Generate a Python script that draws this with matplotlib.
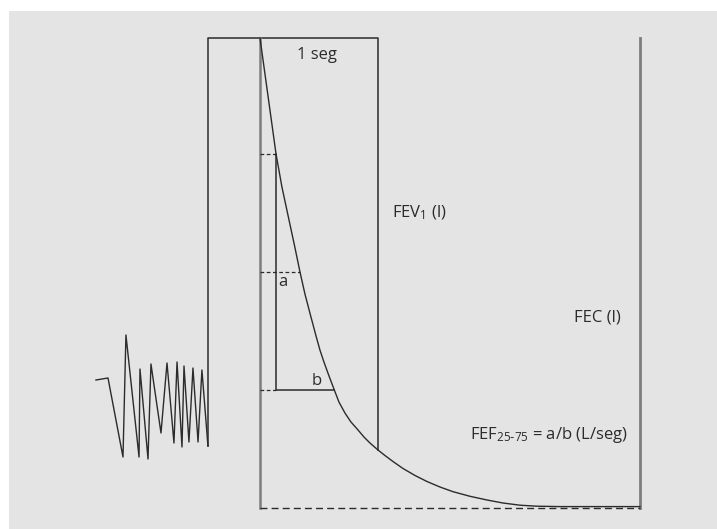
import matplotlib
matplotlib.use("Agg")
import matplotlib.pyplot as plt

plt.rcParams["font.family"] = ["Open Sans", "DejaVu Sans"]

# time in seconds, volume in litres
fvc = 4.70
t_curve = [0.000, 0.034, 0.068, 0.102, 0.136, 0.186, 0.246, 0.297, 0.339, 0.381,
           0.432, 0.475, 0.508, 0.542, 0.585, 0.630, 0.669, 0.720, 0.771, 0.831,
           0.881, 0.932, 1.000, 1.059, 1.127, 1.212, 1.314, 1.415, 1.525, 1.636,
           1.780, 1.924, 2.059, 2.203, 2.347, 2.542, 3.220]
v_curve = [4.70, 4.41, 4.12, 3.83, 3.54, 3.21, 2.88, 2.60, 2.36, 2.14,
           1.91, 1.72, 1.58, 1.46, 1.32, 1.18, 1.06, 0.95, 0.86, 0.78,
           0.71, 0.65, 0.58, 0.525, 0.465, 0.395, 0.325, 0.265, 0.21, 0.163,
           0.117, 0.08, 0.05, 0.028, 0.018, 0.014, 0.014]

# tidal breathing before the manoeuvre
t_tidal = [-1.390, -1.288, -1.161, -1.136, -1.025, -1.017, -0.949, -0.924, -0.839,
           -0.788, -0.729, -0.703, -0.661, -0.644, -0.602, -0.568, -0.525, -0.492, -0.441]
v_tidal = [1.28, 1.30, 0.51, 1.73, 0.51, 1.39, 0.49, 1.44, 0.75,
           1.45, 0.65, 1.46, 0.61, 1.42, 0.66, 1.40, 0.66, 1.38, 0.62]

t_end = 3.22          # time where the curve reaches the plateau
t_a = 0.136           # x position of segment "a"
v75, v50, v25 = 3.54, 2.36, 1.18
t50, t25 = 0.339, 0.630
t_fev1 = 1.0
v_fev1 = 0.58

dark = "#2b2b2b"
grey = "#7d7d7d"

fig = plt.figure(figsize=(7.17, 5.29), dpi=100)
ax = fig.add_axes([9 / 717, 0, 1 - 9 / 717, 518 / 529])
ax.set_xlim(-2.127, 3.873)
ax.set_ylim(-0.21, 4.97)
ax.axis("off")
ax.add_patch(plt.Rectangle((0, 0), 1, 1, transform=ax.transAxes,
                           facecolor="#e4e4e4", edgecolor="none", zorder=0))

# tidal breathing + frame
ax.plot(t_tidal, v_tidal, color=dark, lw=1.0)
ax.plot([t_tidal[-1], t_tidal[-1], t_fev1, t_fev1],
        [v_tidal[-1], fvc, fvc, v_fev1], color=dark, lw=1.1)

# time zero and FVC lines
ax.plot([0, 0], [0, fvc], color=grey, lw=1.8)
ax.plot([t_end, t_end], [0, fvc], color=grey, lw=2.0)
ax.plot([0, t_end], [0, 0], color=dark, lw=1.0, ls=(0, (5, 3)))

# expiration curve
ax.plot(t_curve, v_curve, color=dark, lw=1.0)

# FEF 25-75 construction
ax.plot([t_a, t_a, t25], [v75, v25, v25], color=dark, lw=1.1)
ax.plot([0, t_a], [v75, v75], color=dark, lw=0.9, ls=(0, (3, 2)))
ax.plot([0, t50], [v50, v50], color=dark, lw=0.9, ls=(0, (3, 2)))
ax.plot([0, t_a], [v25, v25], color=dark, lw=0.9, ls=(0, (3, 2)))

fs = 12
ax.text(0.48, 4.53, "1 seg", fontsize=fs, color=dark, ha="center", va="center")
ax.text(1.12, 2.95, r"$\mathregular{FEV_1}$ (l)", fontsize=fs, color=dark,
        ha="left", va="center")
ax.text(2.66, 1.90, "FEC (l)", fontsize=fs, color=dark, ha="left", va="center")
ax.text(0.19, 2.26, "a", fontsize=fs, color=dark, ha="center", va="center")
ax.text(0.484, 1.27, "b", fontsize=fs, color=dark, ha="center", va="center")
ax.text(1.78, 0.73, r"$\mathregular{FEF_{25\text{-}75}}$ = a/b (L/seg)",
        fontsize=fs, color=dark, ha="left", va="center")

fig.savefig("out.png", dpi=100)
